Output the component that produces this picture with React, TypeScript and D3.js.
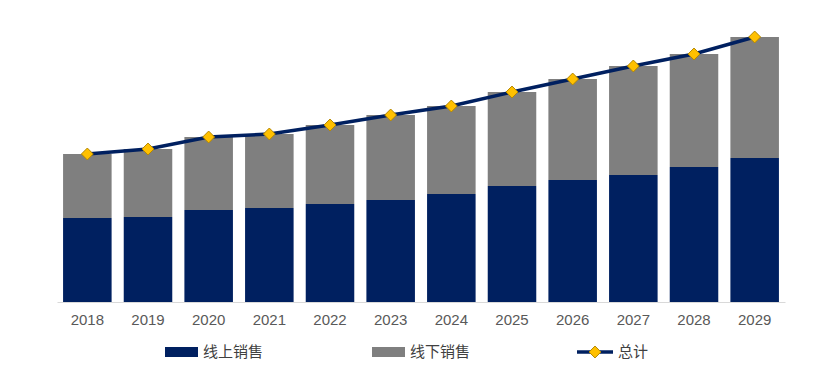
import React, { useEffect, useRef } from 'react';
import * as d3 from 'd3';

const years = ['2018', '2019', '2020', '2021', '2022', '2023', '2024', '2025', '2026', '2027', '2028', '2029'];
const online = [84, 85, 92, 94, 98, 102, 108, 116, 122, 127, 135, 144];
const offline = [64, 68, 73, 74, 79, 85, 88, 94, 101, 109, 113, 121];
const seriesNames = ['线上销售', '线下销售', '总计'];

const NAVY = '#002060';
const GRAY = '#7F7F7F';
const GOLD = '#FFC000';

const App: React.FC = () => {
  const svgRef = useRef<SVGSVGElement>(null);

  useEffect(() => {
    if (!svgRef.current) return;
    const svg = d3.select(svgRef.current);
    svg.selectAll('*').remove();

    const totals = years.map((_, i) => online[i] + offline[i]);

    const x = d3.scaleBand().domain(years).range([57, 785]).paddingInner(0.2).paddingOuter(0.1);
    const y = d3.scaleLinear().domain([0, 270]).range([302, 32]);

    const g = svg.append('g');

    // bars: online (bottom)
    g.selectAll('.bar-online')
      .data(years)
      .enter()
      .append('rect')
      .attr('x', d => x(d)!)
      .attr('width', x.bandwidth())
      .attr('y', (d, i) => y(online[i]))
      .attr('height', (d, i) => y(0) - y(online[i]))
      .attr('fill', NAVY);

    // bars: offline (stacked)
    g.selectAll('.bar-offline')
      .data(years)
      .enter()
      .append('rect')
      .attr('x', d => x(d)!)
      .attr('width', x.bandwidth())
      .attr('y', (d, i) => y(online[i] + offline[i]))
      .attr('height', (d, i) => y(online[i]) - y(online[i] + offline[i]))
      .attr('fill', GRAY);

    // x axis
    const axis = g.append('g')
      .attr('transform', `translate(0,${y(0)})`)
      .call(d3.axisBottom(x).tickSize(0).tickPadding(12));
    axis.select('.domain').attr('stroke', '#D9D9D9').attr('stroke-width', 1);
    axis.selectAll('text')
      .style('font-family', '"Liberation Sans", Arial, sans-serif')
      .style('font-size', '15px')
      .attr('fill', '#595959');

    // total line
    const line = d3.line<number>()
      .x((d, i) => x(years[i])! + x.bandwidth() / 2)
      .y(d => y(d));

    g.append('path')
      .datum(totals)
      .attr('fill', 'none')
      .attr('stroke', NAVY)
      .attr('stroke-width', 3.5)
      .attr('d', line);

    const diamond = d3.symbol().type(d3.symbolDiamond2).size(90);
    g.selectAll('.dot')
      .data(totals)
      .enter()
      .append('path')
      .attr('d', diamond)
      .attr('transform', (d, i) => `translate(${x(years[i])! + x.bandwidth() / 2},${y(d)})`)
      .attr('fill', GOLD)
      .attr('stroke', '#B38600')
      .attr('stroke-width', 1);

    // legend
    const legend = svg.append('g').attr('transform', 'translate(0,352)');
    const textStyle = (sel: d3.Selection<SVGTextElement, unknown, null, undefined>) =>
      sel.attr('dy', '0.35em')
        .style('font-family', '"Noto Sans CJK SC", sans-serif')
        .style('font-size', '15px')
        .attr('fill', '#404040');

    legend.append('rect').attr('x', 165).attr('y', -5).attr('width', 33).attr('height', 10).attr('fill', NAVY);
    legend.append('text').attr('x', 203).attr('y', 0).call(textStyle).text(seriesNames[0]);

    legend.append('rect').attr('x', 372).attr('y', -5).attr('width', 33).attr('height', 10).attr('fill', GRAY);
    legend.append('text').attr('x', 410).attr('y', 0).call(textStyle).text(seriesNames[1]);

    legend.append('line').attr('x1', 577).attr('x2', 613).attr('y1', 0).attr('y2', 0)
      .attr('stroke', NAVY).attr('stroke-width', 3.5);
    legend.append('path').attr('d', diamond).attr('transform', 'translate(595,0)')
      .attr('fill', GOLD).attr('stroke', '#B38600').attr('stroke-width', 1);
    legend.append('text').attr('x', 618).attr('y', 0).call(textStyle).text(seriesNames[2]);
  }, []);

  return (
    <svg ref={svgRef} width={814} height={384}
      style={{ position: 'absolute', left: 0, top: 0, background: '#fff' }} />
  );
};

export default App;
